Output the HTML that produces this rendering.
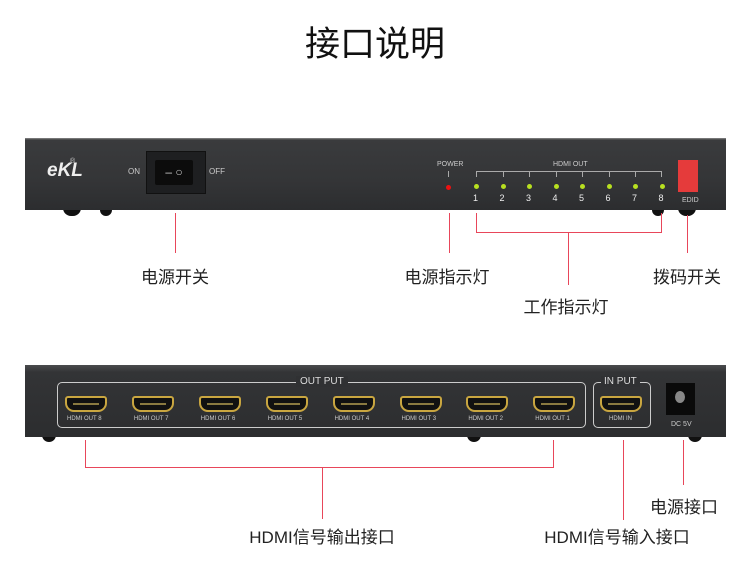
<!DOCTYPE html>
<html><head><meta charset="utf-8"><style>
body{margin:0;width:750px;height:575px;background:#fff;position:relative;overflow:hidden;font-family:"Liberation Sans","Noto Sans CJK SC",sans-serif}
.a{position:absolute}
.r{position:absolute;background:#e8465a}
.lbl{position:absolute;font-size:17px;color:#222;white-space:nowrap;transform:translateX(-50%)}
.t{position:absolute;color:#ccc;font-size:7px;white-space:nowrap}
.hd{position:absolute;width:42px;height:16px;border:2px solid #c9a640;border-radius:3px 3px 9px 9px;background:#111;box-sizing:border-box}
.hd:after{content:"";position:absolute;left:6px;right:6px;top:5px;height:2px;background:#8a7a40}
.foot{position:absolute;width:18px;height:8px;background:#111;border-radius:0 0 9px 9px}
</style></head><body>
<div class="a" style="left:0;top:16px;width:750px;text-align:center;font-size:35px;color:#111">接口说明</div>

<!-- front panel -->
<div class="foot" style="left:63px;top:208px"></div><div class="foot" style="left:100px;top:208px;width:12px"></div>
<div class="foot" style="left:652px;top:208px;width:12px"></div><div class="foot" style="left:678px;top:208px"></div>
<div class="a" style="left:25px;top:138px;width:701px;height:72px;background:linear-gradient(#8a8a8a 0,#3a3b3d 2px,#343537 60%,#2c2d2f);"></div>
<div class="a" style="left:47px;top:160px;font:bold italic 19px 'Liberation Sans';color:#eee">eKL</div>
<div class="t" style="left:70px;top:158px">®</div>
<div class="t" style="left:128px;top:167px;font-size:8px">ON</div>
<div class="t" style="left:209px;top:167px;font-size:8px">OFF</div>
<div class="a" style="left:146px;top:151px;width:58px;height:41px;background:#1e1f21;border:1px solid #111"></div>
<div class="a" style="left:155px;top:160px;width:38px;height:25px;background:#0c0c0c;border-radius:2px;color:#ccc;font-size:12px;line-height:25px;text-align:center">–&nbsp;○</div>
<div class="t" style="left:437px;top:161px">POWER</div>
<div class="a" style="left:448px;top:171px;width:1px;height:6px;background:#aaa"></div>
<div class="a" style="left:446px;top:185px;width:5px;height:5px;border-radius:50%;background:#e11"></div>
<div class="t" style="left:553px;top:161px">HDMI OUT</div>
<div class="a" style="left:476px;top:171px;width:186px;height:6px;border:1px solid #aaa;border-bottom:none;box-sizing:border-box"></div>
<div id="leds"></div>
<div class="a" style="left:678px;top:160px;width:20px;height:32px;background:#e53b3b"></div>
<div class="t" style="left:682px;top:197px">EDID</div>

<div class="r" style="left:175px;top:213px;width:1px;height:40px"></div>
<div class="r" style="left:449px;top:213px;width:1px;height:40px"></div>
<div class="r" style="left:476px;top:213px;width:1px;height:20px"></div>
<div class="r" style="left:661px;top:213px;width:1px;height:20px"></div>
<div class="r" style="left:476px;top:232px;width:186px;height:1px"></div>
<div class="r" style="left:568px;top:232px;width:1px;height:53px"></div>
<div class="r" style="left:687px;top:215px;width:1px;height:38px"></div>
<div class="lbl" style="left:175px;top:263px">电源开关</div>
<div class="lbl" style="left:447px;top:263px">电源指示灯</div>
<div class="lbl" style="left:566px;top:293px">工作指示灯</div>
<div class="lbl" style="left:687px;top:263px">拨码开关</div>

<!-- back panel -->
<div class="foot" style="left:42px;top:434px;width:14px"></div><div class="foot" style="left:467px;top:434px;width:14px"></div><div class="foot" style="left:688px;top:434px;width:14px"></div>
<div class="a" style="left:25px;top:365px;width:701px;height:72px;background:linear-gradient(#4a4b4d,#333436 10%,#2c2d2f);"></div>
<div class="a" style="left:57px;top:382px;width:529px;height:46px;border:1px solid #ccc;border-radius:5px;box-sizing:border-box"></div>
<div class="a" style="left:296px;top:376px;padding:0 4px;background:#303133;color:#ddd;font-size:10px">OUT PUT</div>
<div class="a" style="left:593px;top:382px;width:58px;height:46px;border:1px solid #ccc;border-radius:5px;box-sizing:border-box"></div>
<div class="a" style="left:601px;top:376px;padding:0 3px;background:#303133;color:#ddd;font-size:10px">IN PUT</div>
<div class="a" style="left:666px;top:383px;width:29px;height:32px;background:#0a0a0a"></div>
<div class="a" style="left:675px;top:391px;width:10px;height:12px;border-radius:50%;background:#888"></div>
<div class="t" style="left:671px;top:421px">DC&nbsp;5V</div>
<div id="ports"></div>

<div class="r" style="left:85px;top:440px;width:1px;height:28px"></div>
<div class="r" style="left:553px;top:440px;width:1px;height:28px"></div>
<div class="r" style="left:85px;top:467px;width:469px;height:1px"></div>
<div class="r" style="left:322px;top:467px;width:1px;height:52px"></div>
<div class="r" style="left:623px;top:440px;width:1px;height:80px"></div>
<div class="r" style="left:683px;top:440px;width:1px;height:45px"></div>
<div class="lbl" style="left:684px;top:493px">电源接口</div>
<div class="lbl" style="left:322px;top:523px">HDMI信号输出接口</div>
<div class="lbl" style="left:617px;top:523px">HDMI信号输入接口</div>

<script>
var s='';
for(var i=0;i<8;i++){var x=476+i*26.5;
s+='<div class="a" style="left:'+(x-2)+'px;top:184px;width:5px;height:5px;border-radius:50%;background:#b8e020"></div>';
s+='<div class="a" style="left:'+(x-3)+'px;top:193px;color:#eee;font-size:9px">'+(i+1)+'</div>';
if(i>0&&i<7)s+='<div class="a" style="left:'+x+'px;top:171px;width:1px;height:6px;background:#aaa"></div>';}
document.getElementById('leds').innerHTML=s;
var p='';
for(var i=0;i<8;i++){var x=65+i*66.9;
p+='<div class="hd" style="left:'+x+'px;top:396px"></div><div class="t" style="left:'+(x+2)+'px;top:416px;font-size:6px">HDMI OUT '+(8-i)+'</div>';}
p+='<div class="hd" style="left:600px;top:396px"></div><div class="t" style="left:609px;top:416px;font-size:6px">HDMI IN</div>';
document.getElementById('ports').innerHTML=p;
</script>
</body></html>
